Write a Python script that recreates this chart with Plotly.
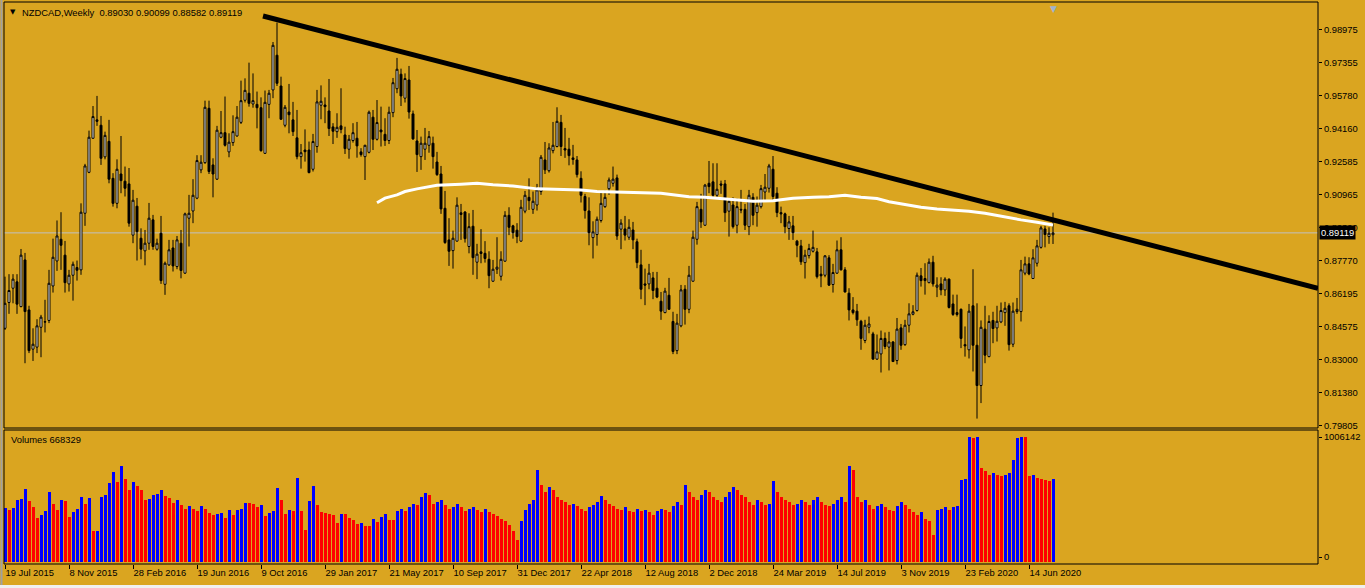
import plotly.graph_objects as go

# ---------------- DATA ----------------
opens = [
.8450,.8575,.8644,.8675,.8555,.8781,.8539,.8349,.8359,.8455,.8480,.8488,.8655,.8776,.8881,.8804,.8665,.8707,.8744,.8733,
.9007,.9205,.9370,.9459,.9433,.9280,.9355,.9176,.9055,.9197,.9162,.9149,.8901,.9041,.8886,.8825,.8862,.8975,.8833,.8910,
.8663,.8757,.8839,.8749,.8862,.8717,.8983,.9018,.9080,.9217,.9252,.9515,.9241,.9172,.9375,.9397,.9304,.9349,.9381,.9447,
.9554,.9588,.9536,.9534,.9518,.9297,.9534,.9604,.9772,.9623,.9433,.9497,.9459,.9372,.9281,.9313,.9313,.9220,.9330,.9530,
.9531,.9502,.9425,.9402,.9430,.9386,.9317,.9359,.9370,.9304,.9281,.9302,.9472,.9365,.9410,.9389,.9359,.9494,.9610,.9680,
.9564,.9652,.9488,.9357,.9281,.9317,.9336,.9346,.9255,.9197,.9031,.8878,.8826,.8872,.9009,.9013,.8846,.8944,.8770,.8820,
.8813,.8784,.8678,.8736,.8702,.8775,.8997,.8946,.8925,.8872,.9017,.9084,.9026,.9047,.9112,.9265,.9213,.9310,.9330,.9447,
.9320,.9317,.9275,.9265,.9176,.9088,.9018,.8889,.8904,.8972,.9039,.9126,.9152,.9178,.8930,.8931,.8891,.8926,.8869,.8757,
.8665,.8665,.8694,.8644,.8581,.8526,.8610,.8483,.8342,.8462,.8639,.8542,.8678,.8881,.9026,.8949,.9152,.9159,.9094,.9149,
.9149,.9017,.9047,.8949,.9026,.9026,.8942,.9084,.9010,.9039,.9110,.9128,.9220,.9104,.9010,.9004,.8933,.8946,.8872,.8849,
.8768,.8802,.8823,.8820,.8712,.8707,.8791,.8662,.8717,.8830,.8733,.8620,.8539,.8533,.8484,.8391,.8455,.8423,.8301,.8326,
.8401,.8359,.8384,.8294,.8452,.8371,.8465,.8518,.8536,.8704,.8691,.8671,.8770,.8649,.8665,.8636,.8688,.8568,.8526,.8542,
.8371,.8346,.8559,.8368,.8173,.8446,.8313,.8488,.8452,.8481,.8526,.8559,.8373,.8531,.8531,.8717,.8762,.8691,.8765,.8842,
.8931,.8894,.89030]
highs = [
.8700,.8712,.8712,.8712,.8834,.8815,.8559,.8450,.8494,.8515,.8588,.8733,.8884,.8972,.9012,.8873,.8733,.8773,.8778,.9055,
.9246,.9407,.9526,.9575,.9478,.9402,.9459,.9201,.9268,.9381,.9233,.9226,.9120,.9081,.8934,.8926,.9057,.8999,.8884,.8994,
.8773,.8878,.8878,.8897,.8926,.9010,.9096,.9172,.9288,.9288,.9552,.9552,.9273,.9430,.9502,.9572,.9394,.9481,.9526,.9649,
.9660,.9736,.9684,.9596,.9568,.9601,.9604,.9836,.9930,.9668,.9531,.9633,.9546,.9507,.9342,.9413,.9354,.9391,.9604,.9626,
.9568,.9657,.9443,.9491,.9612,.9426,.9386,.9443,.9449,.9322,.9338,.9504,.9507,.9555,.9523,.9467,.9523,.9662,.9759,.9707,
.9684,.9720,.9504,.9410,.9378,.9420,.9405,.9378,.9304,.9236,.9115,.8983,.8923,.9084,.9052,.9017,.9007,.9023,.8859,.8930,
.8872,.8823,.8781,.8891,.8823,.9017,.9036,.8951,.8959,.9072,.9115,.9176,.9112,.9149,.9289,.9352,.9346,.9449,.9520,.9483,
.9420,.9372,.9338,.9284,.9210,.9101,.9084,.8968,.8991,.9107,.9117,.9180,.9233,.9194,.8978,.8994,.8978,.8965,.8884,.8830,
.8739,.8762,.8723,.8723,.8626,.8646,.8694,.8530,.8520,.8660,.8659,.8752,.8923,.9062,.9101,.9149,.9260,.9249,.9249,.9165,
.9168,.9081,.9084,.9078,.9120,.9052,.9120,.9104,.9088,.9144,.9197,.9246,.9284,.9133,.9039,.9010,.8994,.8994,.8878,.8878,
.8830,.8859,.8923,.8839,.8752,.8804,.8804,.8762,.8875,.8891,.8746,.8644,.8601,.8568,.8491,.8491,.8507,.8433,.8420,.8439,
.8430,.8433,.8388,.8500,.8471,.8491,.8571,.8562,.8720,.8742,.8765,.8788,.8801,.8697,.8697,.8697,.8691,.8613,.8613,.8546,
.8459,.8568,.8736,.8571,.8488,.8559,.8513,.8530,.8559,.8575,.8578,.8571,.8575,.8597,.8781,.8797,.8794,.8833,.8878,.8946,
.8946,.8939,.90099]
lows = [
.8442,.8520,.8571,.8520,.8552,.8281,.8330,.8292,.8330,.8310,.8430,.8475,.8623,.8728,.8733,.8623,.8628,.8584,.8681,.8709,
.8946,.9201,.9368,.9430,.9241,.9268,.9152,.9039,.9031,.9104,.9088,.8942,.8862,.8778,.8784,.8755,.8830,.8830,.8826,.8665,
.8612,.8752,.8725,.8736,.8692,.8713,.8846,.8959,.9075,.9201,.9246,.9197,.9084,.9168,.9370,.9330,.9278,.9333,.9378,.9439,
.9543,.9523,.9518,.9418,.9305,.9294,.9467,.9564,.9623,.9459,.9423,.9394,.9381,.9268,.9223,.9257,.9200,.9209,.9300,.9462,
.9443,.9381,.9342,.9372,.9394,.9294,.9271,.9349,.9276,.9281,.9168,.9297,.9313,.9359,.9330,.9333,.9342,.9472,.9588,.9526,
.9543,.9465,.9362,.9207,.9217,.9265,.9300,.9223,.9188,.9004,.8859,.8752,.8739,.8870,.8878,.8865,.8813,.8709,.8688,.8765,
.8768,.8644,.8675,.8713,.8681,.8772,.8901,.8884,.8862,.8869,.9007,.9023,.9004,.9020,.9096,.9197,.9204,.9297,.9326,.9284,
.9275,.9239,.9242,.9180,.9059,.8981,.8852,.8788,.8850,.8962,.9033,.9096,.9136,.8878,.8833,.8875,.8878,.8833,.8741,.8591,
.8562,.8639,.8591,.8596,.8491,.8523,.8539,.8325,.8325,.8455,.8468,.8523,.8676,.8855,.8936,.8946,.9104,.9084,.9084,.9101,
.8965,.8894,.8933,.8910,.9007,.8926,.8901,.8949,.8942,.9030,.9072,.9107,.9072,.8988,.8959,.8910,.8878,.8878,.8794,.8757,
.8691,.8788,.8817,.8691,.8649,.8697,.8655,.8623,.8713,.8730,.8623,.8488,.8517,.8462,.8346,.8378,.8426,.8297,.8297,.8236,
.8349,.8246,.8288,.8275,.8346,.8365,.8430,.8513,.8531,.8652,.8613,.8668,.8652,.8601,.8610,.8607,.8546,.8510,.8507,.8354,
.8313,.8304,.8241,.8013,.8088,.8281,.8310,.8378,.8386,.8475,.8462,.8342,.8359,.8520,.8483,.8707,.8707,.8691,.8749,.8836,
.8842,.8859,.88582]
closes = [
.8571,.8633,.8688,.8567,.8804,.8531,.8342,.8373,.8462,.8504,.8482,.8668,.8794,.8897,.8852,.8671,.8707,.8760,.8731,.9012,
.9236,.9375,.9475,.9452,.9273,.9384,.9172,.9055,.9220,.9165,.9128,.8959,.9070,.8918,.8833,.8862,.8983,.8846,.8862,.8681,
.8765,.8830,.8752,.8878,.8730,.9004,.9007,.9094,.9262,.9254,.9520,.9209,.9197,.9409,.9397,.9336,.9351,.9402,.9472,.9552,
.9602,.9539,.9552,.9518,.9310,.9544,.9588,.9820,.9636,.9462,.9520,.9484,.9402,.9281,.9300,.9305,.9204,.9354,.9546,.9549,
.9523,.9417,.9404,.9423,.9413,.9320,.9365,.9397,.9333,.9291,.9336,.9496,.9365,.9446,.9401,.9359,.9496,.9639,.9704,.9575,
.9659,.9497,.9367,.9291,.9346,.9346,.9378,.9281,.9194,.9028,.8865,.8823,.8886,.9046,.9001,.8884,.8942,.8792,.8809,.8812,
.8788,.8705,.8736,.8746,.8784,.8997,.8939,.8913,.8894,.9036,.9094,.9068,.9065,.9120,.9278,.9217,.9323,.9336,.9452,.9330,
.9313,.9286,.9267,.9194,.9094,.9020,.8913,.8917,.8978,.9055,.9084,.9168,.9172,.8897,.8959,.8901,.8939,.8878,.8768,.8639,
.8659,.8717,.8633,.8601,.8533,.8630,.8542,.8338,.8475,.8636,.8542,.8707,.8891,.9039,.8965,.9143,.9136,.9094,.9123,.9143,
.9010,.9065,.8942,.9039,.9023,.8949,.9094,.8997,.9046,.9126,.9133,.9236,.9088,.9010,.9004,.8942,.8965,.8913,.8852,.8772,
.8804,.8836,.8842,.8700,.8704,.8801,.8659,.8720,.8830,.8733,.8626,.8539,.8526,.8491,.8401,.8465,.8471,.8301,.8336,.8401,
.8362,.8384,.8289,.8446,.8368,.8465,.8520,.8530,.8707,.8681,.8681,.8770,.8665,.8659,.8636,.8688,.8551,.8517,.8517,.8401,
.8365,.8533,.8368,.8173,.8455,.8320,.8483,.8449,.8484,.8536,.8547,.8371,.8533,.8542,.8733,.8762,.8713,.8791,.8849,.8936,
.8904,.8910,.89119]
volumes = [
437000,419000,437000,499000,507000,590000,491000,445000,357000,378000,410000,566000,467000,419000,499000,491000,365000,402000,427000,526000,
467000,518000,248000,252000,526000,542000,638000,727000,644000,775000,670000,580000,644000,612000,582000,499000,510000,539000,547000,582000,
531000,518000,475000,499000,459000,427000,451000,427000,410000,453000,427000,397000,378000,389000,394000,357000,419000,381000,419000,429000,
477000,477000,467000,445000,459000,373000,397000,413000,598000,499000,389000,419000,413000,679000,410000,258000,491000,614000,459000,405000,
394000,386000,378000,314000,386000,386000,354000,338000,306000,314000,292000,292000,346000,322000,362000,386000,338000,338000,413000,
430000,410000,445000,470000,455000,520000,555000,540000,470000,
480000,500000,460000,430000,445000,470000,440000,410000,430000,445000,420000,400000,430000,
400000,390000,370000,350000,330000,300000,250000,177000,
330000,420000,470000,500000,740000,620000,560000,600000,580000,
520000,500000,480000,460000,470000,450000,430000,410000,440000,460000,480000,530000,500000,470000,450000,430000,420000,440000,410000,400000,430000,410000,420000,
400000,380000,410000,430000,420000,400000,450000,480000,460000,620000,
560000,520000,500000,540000,580000,560000,520000,500000,480000,520000,560000,600000,580000,540000,520000,
480000,460000,500000,480000,460000,470000,650000,560000,
520000,500000,480000,460000,470000,500000,480000,460000,500000,520000,480000,460000,450000,470000,500000,520000,480000,
773000,740000,
520000,480000,500000,460000,430000,450000,470000,440000,420000,410000,450000,480000,460000,
430000,400000,380000,400000,350000,330000,217000,
420000,430000,440000,420000,440000,450000,
660000,670000,1006142,1000000,1004000,760000,730000,700000,
720000,700000,690000,700000,720000,820000,1000000,1006142,1003000,
690000,700000,680000,670000,660000,650000,668329]

# moving average (white line) read at sampled weeks
ma_bar = [93,95,98,100,103,105,108,114,118,122,127,133,137,144,148,154,160,164,167,171,175,179,183,187,192,195,
          197,202,206,210,214,218,221,225,229,233,237,241,245,250,254,258,262]
ma_val = [.9058,.9080,.9096,.9112,.9125,.9133,.9142,.9147,.9152,.9145,.9139,.9125,.9123,.9120,.9112,.9109,.9107,
          .9104,.9096,.9087,.9084,.9078,.9071,.9065,.9068,.9075,.9080,.9084,.9087,.9094,.9084,.9078,.9063,.9049,
          .9036,.9028,.9023,.9017,.9007,.8988,.8975,.8963,.8950]

# trend line anchor points (bar number, price)
trend_bar = [64.5, 328.25]
trend_val = [0.9962, 0.8644]

price_ticks = [0.98975, 0.97355, 0.95780, 0.94160, 0.92585, 0.90965, 0.89390,
               0.87770, 0.86195, 0.84575, 0.83000, 0.81380, 0.79805]
date_tick_bar = [0, 16, 32, 48, 64, 80, 96, 112, 128, 144, 160, 176, 192, 208, 224, 240, 256]
date_tick_labels = ["19 Jul 2015", "8 Nov 2015", "28 Feb 2016", "19 Jun 2016", "9 Oct 2016",
                    "29 Jan 2017", "21 May 2017", "10 Sep 2017", "31 Dec 2017", "22 Apr 2018",
                    "12 Aug 2018", "2 Dec 2018", "24 Mar 2019", "14 Jul 2019", "3 Nov 2019",
                    "23 Feb 2020", "14 Jun 2020"]
last_price = 0.89119
vol_label_max = 1006142
header = "NZDCAD,Weekly  0.89030 0.90099 0.88582 0.89119"
vol_header = "Volumes 668329"

n = len(closes)
assert len(opens) == n and len(highs) == n and len(lows) == n and len(volumes) == n, (len(opens), len(highs), len(lows), n, len(volumes))
bars = list(range(n))

# ---------------- FIGURE ----------------
BG = "#DAA520"
FONT = "Liberation Sans"
FS = 9.4
W, H = 1365, 588
ML, MR, MT, MB = 4, 47, 2, 24
PW, PH = W - ML - MR, H - MT - MB
main_dom = [(564 - 428) / PH, 1.0]
vol_dom = [0.0, (564 - 430) / PH]
VPX = 8049  # volume units per pixel in the lower panel

vol_colors = []
for i, v in enumerate(volumes):
    if i == 0 or v > volumes[i - 1]:
        vol_colors.append("#0000FF")
    else:
        vol_colors.append("#FF0000")

fig = go.Figure()
fig.add_trace(go.Candlestick(
    x=bars, open=opens, high=highs, low=lows, close=closes,
    increasing=dict(line=dict(color="black", width=1), fillcolor="white"),
    decreasing=dict(line=dict(color="black", width=1), fillcolor="black"),
    whiskerwidth=0, xaxis="x", yaxis="y", hoverinfo="skip"))
fig.add_trace(go.Scatter(x=ma_bar, y=ma_val, mode="lines",
                         line=dict(color="white", width=3), xaxis="x", yaxis="y", hoverinfo="skip"))
fig.add_trace(go.Scatter(x=trend_bar, y=trend_val, mode="lines",
                         line=dict(color="black", width=5), xaxis="x", yaxis="y", hoverinfo="skip"))
fig.add_trace(go.Bar(x=bars, y=volumes, marker=dict(color=vol_colors, line=dict(width=0)),
                     width=0.75, xaxis="x2", yaxis="y2", hoverinfo="skip"))

xr = [-0.25, (1318 - 5) / 4]
fig.update_layout(
    width=W, height=H, margin=dict(l=ML, r=MR, t=MT, b=MB, autoexpand=False),
    paper_bgcolor=BG, plot_bgcolor=BG, showlegend=False, bargap=0,
    font=dict(family=FONT, size=FS, color="black"),
    xaxis=dict(domain=[0, 1], range=xr, anchor="y", showticklabels=False, showgrid=False,
               zeroline=False, ticks="", rangeslider=dict(visible=False), showline=False),
    yaxis=dict(domain=main_dom, range=[1.00393 - 0.00048409 * 428, 1.00393 - 0.00048409 * 2],
               side="right", anchor="x", tickvals=price_ticks, ticktext=[f"{v:.5f}" for v in price_ticks],
               ticks="outside", ticklen=3, tickcolor="black", showgrid=False, zeroline=False,
               showline=False, tickfont=dict(family=FONT, size=FS, color="black")),
    xaxis2=dict(domain=[0, 1], range=xr, anchor="y2", tickvals=date_tick_bar, ticktext=date_tick_labels,
                ticks="outside", ticklen=4, tickcolor="black", ticklabelposition="outside right",
                tickangle=0, showgrid=False, zeroline=False, showline=False,
                tickfont=dict(family=FONT, size=FS, color="black")),
    yaxis2=dict(domain=vol_dom, range=[-2 * VPX, 132 * VPX], side="right", anchor="x2",
                tickvals=[vol_label_max, 5 * VPX], ticktext=[str(vol_label_max), "0"],
                ticks="outside", ticklen=3,
                tickcolor="black", showgrid=False, zeroline=False, showline=False,
                tickfont=dict(family=FONT, size=FS, color="black")),
)

shapes = [
    dict(type="line", xref="paper", yref="y", x0=0, x1=1, y0=last_price, y1=last_price,
         line=dict(color="#C0C0C0", width=1), layer="below"),
    dict(type="rect", xref="paper", yref="paper", x0=0, x1=1, y0=main_dom[0], y1=1,
         line=dict(color="black", width=1)),
    dict(type="rect", xref="paper", yref="paper", x0=0, x1=1, y0=vol_dom[0], y1=vol_dom[1],
         line=dict(color="black", width=1)),
    dict(type="line", xref="paper", yref="paper", x0=-2.5 / PW, x1=-2.5 / PW, y0=-22 / PH, y1=1 + 2 / PH,
         line=dict(color="#A0A0A0", width=2)),
    dict(type="rect", xref="paper", yref="paper", x0=-4 / PW, x1=1 + 47 / PW, y0=-24 / PH, y1=-21 / PH,
         line=dict(width=0), fillcolor="#F0F0F0"),
]
fig.update_layout(shapes=shapes)

annotations = [
    dict(xref="paper", yref="paper", x=0, y=1, xanchor="left", yanchor="top", xshift=4, yshift=-4,
         text="▼", showarrow=False, font=dict(family="DejaVu Sans", size=7, color="black")),
    dict(xref="paper", yref="paper", x=0, y=1, xanchor="left", yanchor="top", xshift=16, yshift=-3,
         text=header, showarrow=False, font=dict(family=FONT, size=FS, color="black")),
    dict(xref="paper", yref="paper", x=0, y=vol_dom[1], xanchor="left", yanchor="top", xshift=5, yshift=-2,
         text=vol_header, showarrow=False, font=dict(family=FONT, size=FS, color="black")),
    dict(xref="paper", yref="y", x=1, y=last_price, xanchor="left", yanchor="middle", xshift=1,
         text=f"{last_price:.5f}", showarrow=False, bgcolor="black", borderpad=1,
         font=dict(family=FONT, size=FS, color="white")),
    dict(xref="x", yref="paper", x=n - 1, y=1, xanchor="center", yanchor="top", yshift=0,
         text="▼", showarrow=False, font=dict(family="DejaVu Sans", size=9, color="#9FB4CF")),
]
fig.update_layout(annotations=annotations)

fig.write_html("out.html", config={"displayModeBar": False},
               post_script="document.body.style.margin='0px';document.body.style.overflow='hidden';")
